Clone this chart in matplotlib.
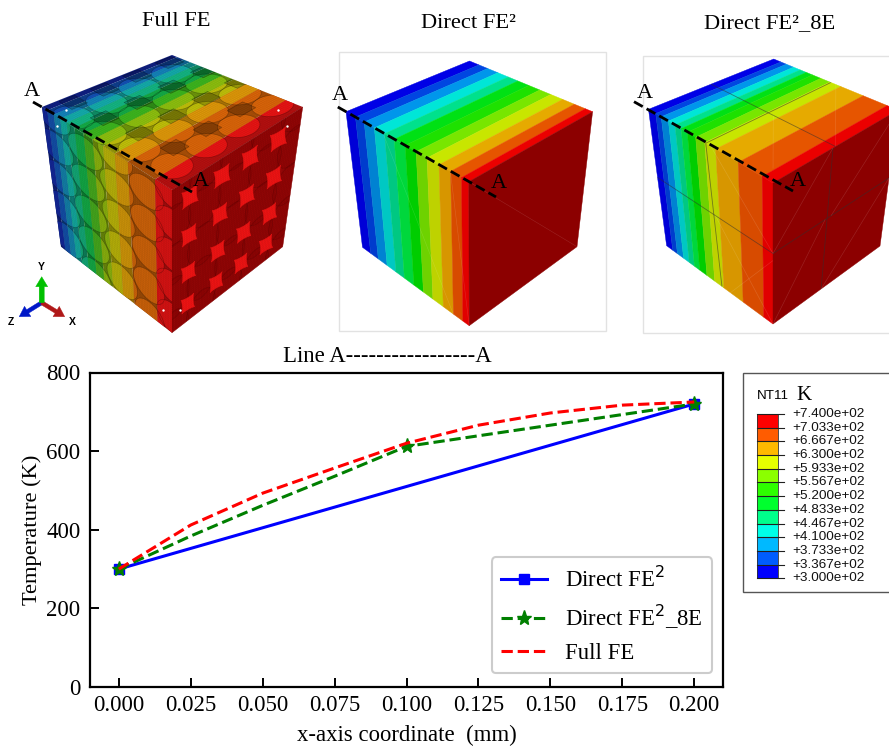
import numpy as np
import matplotlib
matplotlib.use("Agg")
import matplotlib.pyplot as plt
from matplotlib.patches import Polygon, Rectangle, FancyArrow
from matplotlib.collections import LineCollection
from matplotlib.colors import to_rgb

plt.rcParams['font.family'] = ['Liberation Serif', 'DejaVu Sans']
plt.rcParams['mathtext.fontset'] = 'dejavusans'

# ---------- line chart data ----------
x_direct = [0.0, 0.1, 0.2]
t_direct = [300, 510, 720]
x_direct_markers = [0, 2]
x_8e = [0.0, 0.025, 0.05, 0.075, 0.1, 0.2]
t_8e = [300, 384, 462, 536, 612, 720]
x_8e_markers = [0, 4, 5]
x_full = [0.0, 0.025, 0.05, 0.075, 0.1, 0.125, 0.15, 0.175, 0.2]
t_full = [300, 412, 493, 557, 620, 666, 697, 717, 725]
x_ticks = [0.0, 0.025, 0.05, 0.075, 0.1, 0.125, 0.15, 0.175, 0.2]
y_ticks = [0, 200, 400, 600, 800]

# ---------- contour legend ----------
legend_values = ['+7.400e+02', '+7.033e+02', '+6.667e+02', '+6.300e+02', '+5.933e+02',
                 '+5.567e+02', '+5.200e+02', '+4.833e+02', '+4.467e+02', '+4.100e+02',
                 '+3.733e+02', '+3.367e+02', '+3.000e+02']
legend_colors = ['#ff0000', '#ff5c00', '#ffb900', '#e6ff00', '#8bff00', '#2eff00',
                 '#00ff2e', '#00ff8b', '#00ffe8', '#00b9ff', '#005cff', '#0000ff']

# ---------- cube band colours and widths ----------
top_colors = ['#0000e6', '#0046e1', '#0096eb', '#00e6d7', '#00e18c', '#00e114',
              '#1ee100', '#78e600', '#c8e600', '#e6aa00', '#e65500', '#eb0000']
left_colors = ['#0000d7', '#003ccd', '#0082d2', '#00c8c3', '#00c882', '#00d73c',
               '#00cd00', '#6ed200', '#bed200', '#d79600', '#d74b00', '#e10000']
right_color = '#960808'
right_color_plain = '#8c0000'
bands_direct = [0, .077, .148, .231, .314, .393, .482, .571, .660, .757, .852, .941, 1]
bands_8e = [0, .058, .102, .160, .213, .262, .312, .379, .452, .539, .720, .913, 1]
bands_full = [0, .04, .09, .14, .19, .25, .32, .39, .47, .56, .66, .87, 1]
top_full = ['#1428a5', '#1450b4', '#1482b9', '#14aaaa', '#14b482', '#14aa46',
            '#3cb41e', '#8cbe0f', '#bebe0a', '#dc960a', '#d8640a', '#e61414']
left_full = ['#14289b', '#1450aa', '#1482aa', '#14aaa0', '#14aa78', '#14aa46',
             '#46aa1e', '#8cb40f', '#bab40a', '#d2960a', '#d0640a', '#dc1414']

# corners of each cube in picture pixels
c_full = dict(L=(42, 107), B=(172, 55), R=(302.7, 107), F=(172, 190), LB=(61, 246.7), RB=(282.7, 246.7), FB=(172, 332.7))
c_direct = dict(L=(346, 111.7), B=(469.5, 61), R=(592.6, 111.7), F=(468.8, 181.7), LB=(362.5, 247.3), RB=(577, 246.7), FB=(469.2, 325.7))
c_8e = dict(L=(648.5, 109.3), B=(773.7, 59), R=(898, 110), F=(773, 183), LB=(666.6, 245.7), RB=(880, 246), FB=(773, 324))

# Full FE weave layout, in face fractions
top_yarns = [(.172, [.07, .326, .58, .83]), (.39, [.10, .36, .62, .87]),
             (.62, [.13, .39, .65, .90]), (.85, [.15, .41, .66, .92])]
top_gaps = [(.06, [.18, .42, .67, .92]), (.28, [.2, .46, .72, .97]),
            (.51, [.24, .49, .75, 1.0]), (.74, [.28, .53, .79])]
left_cols = [.08, .32, .56, .80, 1.0]
left_rows = [.02, .24, .46, .68, .90, 1.12]
right_u = [.14, .39, .61, .83]
right_v = [.13, .40, .66, .88]
white_specks = [(278, 110), (287, 126), (66, 110), (57, 126), (180, 310), (163, 310)]

fig = plt.figure(figsize=(8.89, 7.49), dpi=100)
bg = fig.add_axes([0, 0, 1, 1])
bg.set_xlim(0, 889)
bg.set_ylim(749, 0)
bg.axis('off')


def bil(a, b, c, d, u, v):
    a, b, c, d = map(np.asarray, (a, b, c, d))
    u = np.asarray(u)[..., None]
    v = np.asarray(v)[..., None]
    return (1-u)*(1-v)*a + u*(1-v)*b + u*v*c + (1-u)*v*d


def quad(a, b, c, d, u0, u1, v0=0, v1=1):
    return np.array([bil(a, b, c, d, u0, v0), bil(a, b, c, d, u1, v0),
                     bil(a, b, c, d, u1, v1), bil(a, b, c, d, u0, v1)])


def add_poly(pts, **kw):
    p = Polygon(pts, closed=True, **kw)
    bg.add_patch(p)
    return p


def faces(c):
    return ((c['L'], c['F'], c['R'], c['B']),
            (c['L'], c['F'], c['FB'], c['LB']),
            (c['F'], c['R'], c['RB'], c['FB']))


def draw_cube(c, bands, top, left):
    tf, lf, rf = faces(c)
    for i in range(12):
        add_poly(quad(*tf, bands[i], bands[i+1]), fc=top[i], ec=top[i], lw=0.3)
        add_poly(quad(*lf, bands[i], bands[i+1]), fc=left[i], ec=left[i], lw=0.3)
    add_poly(quad(*rf, 0, 1), fc=right_color_plain, ec=right_color_plain, lw=0.3)
    return tf, lf, rf


def mesh_line(face, p, q, color='#303030', lw=0.7, alpha=0.7):
    a = bil(*face, p[0], p[1])
    b = bil(*face, q[0], q[1])
    bg.plot([a[0], b[0]], [a[1], b[1]], color=color, lw=lw, alpha=alpha, solid_capstyle='butt')


def a_label(x, y):
    bg.text(x, y, 'A', fontsize=16, ha='center', va='center', color='black', zorder=7)


def dash(x0, y0, x1, y1):
    bg.plot([x0, x1], [y0, y1], color='black', lw=2, ls=(0, (3.6, 1.6)), zorder=6)


# Direct FE2 cube
bg.add_patch(Rectangle((339.2, 52.3), 266.8, 278.7, fc='white', ec='#e2e2e2', lw=1))
tf, lf, rf = draw_cube(c_direct, bands_direct, top_colors, left_colors)
for f, p, q in [(rf, (0, 0), (1, 1)), (lf, (.3, 0), (.85, 1)), (lf, (.85, 0), (1, 1))]:
    mesh_line(f, p, q, color='#ffffff', lw=0.4, alpha=0.14)
dash(337.8, 107, 496, 197)
a_label(340, 95)
a_label(499, 184)

# Direct FE2_8E cube
bg.add_patch(Rectangle((642.7, 55.7), 260, 277.3, fc='white', ec='#e2e2e2', lw=1))
tf, lf, rf = draw_cube(c_8e, bands_8e, top_colors, left_colors)
for f, p, q in [(tf, (.46, 0), (.46, 1)), (tf, (0, .5), (1, .5)),
                (lf, (.46, 0), (.52, 1)), (lf, (0, .5), (1, .5)),
                (rf, (.48, 0), (.45, 1)), (rf, (0, .5), (1, .5))]:
    mesh_line(f, p, q, alpha=0.55, lw=0.6)
for f, p, q in [(tf, (.5, 1), (1, .5)), (tf, (.5, .5), (.9, .1)), (lf, (.5, 0), (1, .5)), (lf, (.5, .5), (1, 1)),
                (lf, (.6, 1), (1, .55)), (rf, (0, .5), (.48, 0)), (rf, (0, 1), (.45, .5)), (rf, (.5, .5), (1, 0)),
                (rf, (.45, 1), (1, .5))]:
    mesh_line(f, p, q, color='#ffffff', lw=0.5, alpha=0.13)
dash(634, 101.7, 793, 191)
a_label(645, 94)
a_label(798, 182)


def dark(col, k):
    return tuple(np.array(to_rgb(col)) * k)


# Full FE cube: a shaded base, then yarns in full colour clipped by their outline
tf, lf, rf = faces(c_full)
for i in range(12):
    add_poly(quad(*tf, bands_full[i], bands_full[i+1]), fc=dark(top_full[i], .78), ec='none')
    add_poly(quad(*lf, bands_full[i], bands_full[i+1]), fc=dark(left_full[i], .72), ec='none')
add_poly(quad(*rf, 0, 1), fc=right_color, ec=right_color, lw=0.3)
clip_t = add_poly(quad(*tf, 0, 1), fc='none', ec='none')
clip_l = add_poly(quad(*lf, 0, 1), fc='none', ec='none')
clip_r = add_poly(quad(*rf, 0, 1), fc='none', ec='none')
theta = np.linspace(0, 2*np.pi, 50)


def yarn(face, clip, u0, v0, a, b, colors, k=1.0):
    outline = add_poly(bil(*face, u0 + a*np.cos(theta), v0 + b*np.sin(theta)),
                       fc='none', ec='#00000045', lw=0.5, zorder=2)
    outline.set_clip_path(clip)
    for i in range(12):
        if bands_full[i+1] < u0 - a or bands_full[i] > u0 + a:
            continue
        s = add_poly(quad(*face, bands_full[i], bands_full[i+1]), fc=dark(colors[i], k), ec='none', zorder=1.5)
        s.set_clip_path(add_poly(bil(*face, u0 + a*np.cos(theta), v0 + b*np.sin(theta)), fc='none', ec='none'))


for u, vs in top_gaps:
    for v in vs:
        g = add_poly(quad(*tf, u - .05, u + .05, v - .06, v + .06), fc='#00000030', ec='#00000060', lw=0.4, zorder=2.2)
        g.set_clip_path(clip_t)
for u, vs in top_yarns:
    for v in vs:
        yarn(tf, clip_t, u, v, .115, .115, top_full)
for j, u in enumerate(left_cols):
    for w in left_rows:
        yarn(lf, clip_l, u, w + .11 * (j % 2), .135, .105, left_full, k=.95)
for u in [.02, .26, .5, .74, .97]:
    for v in [.0, .26, .53, .77, 1.0]:
        o = add_poly(bil(*rf, u + .13*np.cos(theta), v + .14*np.sin(theta)), fc='#78000028', ec='#00000025', lw=0.5, zorder=2)
        o.set_clip_path(clip_r)
# bright concave patches between the round yarns on the right face
along = np.array([.5, -.87])
across = np.array([.9, .42])
tt = np.linspace(0, 2*np.pi, 80)
for u in right_u:
    for v in right_v:
        centre = bil(*rf, u, v)
        cx = np.sign(np.cos(tt))*np.abs(np.cos(tt))**2.5
        cy = np.sign(np.sin(tt))*np.abs(np.sin(tt))**2.5
        scale = 1 - .22*v
        pts = centre + scale*(15*cx[:, None]*along + 9.5*cy[:, None]*across)
        add_poly(pts, fc='#ee1414', ec='#ee1414', lw=0.3, zorder=2.3)
# fine mesh shading
segs = []
for s in np.linspace(0, 1, 70):
    for face in (tf, lf, rf):
        segs.append(bil(*face, np.array([s, s]), np.array([0, 1])))
        segs.append(bil(*face, np.array([0, 1]), np.array([s, s])))
bg.add_collection(LineCollection(segs, colors='black', linewidths=0.3, alpha=0.07, zorder=3))
bg.scatter(*zip(*white_specks), s=3, color='white', zorder=4, linewidths=0)
dash(33, 102, 192, 192)
a_label(32, 91)
a_label(201, 182)

# coordinate triad
ox, oy = 41.7, 302.7
for dx, dy, col, w in [(-22.5, 14, '#0018c8', 4), (23, 14, '#b01818', 4), (0, -26, '#00c000', 5)]:
    bg.add_patch(FancyArrow(ox, oy, dx, dy, width=w, head_width=12, head_length=10,
                            length_includes_head=True, fc=col, ec=col, lw=0.3))
for tx, ty, s in [(41.7, 267.5, 'Y'), (10.7, 321.7, 'Z'), (72.7, 321.7, 'X')]:
    bg.text(tx, ty, s, fontsize=7.5, fontweight='bold', family='Liberation Sans', ha='center', va='center')

# titles
for tx, ty, s in [(176, 21, 'Full FE'), (468, 24, 'Direct FE²'), (770, 24, 'Direct FE²_8E')]:
    bg.text(tx, ty, s, fontsize=16.2, ha='center', va='center')
bg.text(283, 357, 'Line A' + '-'*17 + 'A', fontsize=16.4, ha='left', va='center')

# contour legend
bg.add_patch(Rectangle((743.3, 373), 160, 219, fc='white', ec='#555555', lw=1))
bg.text(757, 395.7, 'NT11', fontsize=9.6, family='Liberation Sans', ha='left', va='center')
bg.text(796.5, 396, 'K', fontsize=15, ha='left', va='center')
bar_top, bar_bot = 414, 578.3
step = (bar_bot - bar_top) / 12
for i, col in enumerate(legend_colors):
    bg.add_patch(Rectangle((757.3, bar_top + i*step), 21, step, fc=col, ec='none'))
for i, lab in enumerate(legend_values):
    yy = bar_top + i*step
    bg.plot([757.3, 784], [yy, yy], color='#202020', lw=0.8)
    bg.text(792.3, yy, lab, fontsize=9.7, family='Liberation Sans', ha='left', va='center', color='#111111')
bg.add_patch(Rectangle((757.3, bar_top), 21, bar_bot - bar_top, fc='none', ec='#303030', lw=0.6))

# main chart
ax = fig.add_axes([90/889, 1-687/749, (723-90)/889, (687-372.5)/749])
ax.plot(x_direct, t_direct, color='#0000ff', lw=2.2, marker='s', ms=6.5, markevery=x_direct_markers, label='Direct FE$^2$')
ax.plot(x_8e, t_8e, color='#007f00', lw=2.2, ls='--', marker='*', ms=11, markevery=x_8e_markers, label='Direct FE$^2$_8E')
ax.plot(x_full, t_full, color='#ff0000', lw=2.2, ls='--', label='Full FE')
ax.set_xlim(-0.01, 0.21)
ax.set_ylim(0, 800)
ax.set_xticks(x_ticks)
ax.set_xticklabels([f'{v:.3f}' for v in x_ticks])
ax.set_yticks(y_ticks)
ax.tick_params(direction='in', length=6.5, width=1.4, labelsize=16.5)
ax.tick_params(axis='x', pad=6)
ax.tick_params(axis='y', pad=7)
for s in ax.spines.values():
    s.set_linewidth(1.6)
ax.set_xlabel('x-axis coordinate  (mm)', fontsize=16.4, labelpad=6)
ax.set_ylabel('Temperature (K)', fontsize=16.2, labelpad=3)
ax.legend(loc='lower right', bbox_to_anchor=(0.983, 0.044), borderaxespad=0, fontsize=16.4,
          labelspacing=0.5, borderpad=0.42, fancybox=True, framealpha=1, edgecolor='#cccccc')
ax.get_legend().get_frame().set_linewidth(1.5)

fig.savefig('out.png', dpi=100)
